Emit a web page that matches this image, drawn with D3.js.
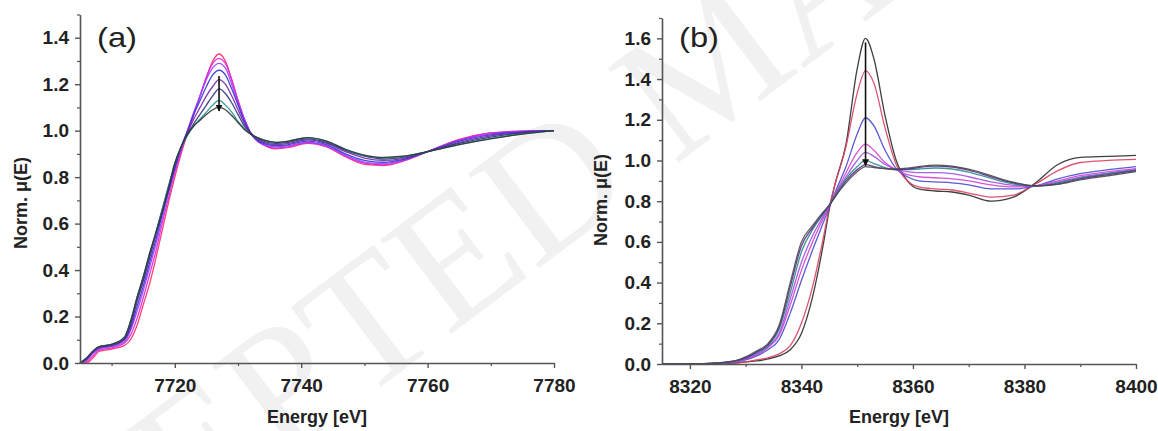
<!DOCTYPE html>
<html><head><meta charset="utf-8">
<script src="https://cdn.jsdelivr.net/npm/d3@7"></script>
<style>body{margin:0;background:#fff}svg{display:block}</style>
</head><body><svg id="c" width="1158" height="431"></svg>
<script>
// ---------- Panel (a) data ----------
const energyA = [7705,7706,7707,7708,7710,7712,7713,7714,7715,7716,7717,7718,7719,7720,7721,7722,7723,7724,7725,7726,7727,7728,7729,7730,7731,7732,7734,7736,7738,7741,7744,7747,7750,7753,7756,7760,7765,7770,7775,7780];
const a1 = [0.0,0.0,0.02,0.05,0.06,0.075,0.1,0.16,0.25,0.34,0.45,0.57,0.69,0.8,0.9,0.99,1.07,1.15,1.23,1.3,1.33,1.30,1.22,1.13,1.05,0.99,0.94,0.922,0.928,0.945,0.93,0.888,0.855,0.85,0.868,0.91,0.962,0.99,0.998,1.0];
const a2 = [0.0,0.005,0.03,0.055,0.065,0.085,0.12,0.19,0.28,0.38,0.48,0.6,0.71,0.82,0.91,0.99,1.07,1.15,1.23,1.29,1.31,1.29,1.22,1.13,1.05,0.99,0.94,0.925,0.93,0.948,0.932,0.89,0.86,0.853,0.87,0.91,0.96,0.99,0.998,1.0];
const a3 = [0.0,0.01,0.04,0.06,0.07,0.09,0.14,0.22,0.31,0.41,0.51,0.62,0.73,0.83,0.92,1.0,1.08,1.15,1.22,1.27,1.29,1.27,1.20,1.12,1.05,0.99,0.94,0.93,0.935,0.95,0.935,0.895,0.865,0.858,0.872,0.91,0.958,0.986,0.997,1.0];
const a4 = [0.0,0.015,0.045,0.065,0.075,0.1,0.15,0.24,0.33,0.43,0.53,0.64,0.74,0.84,0.93,1.0,1.07,1.13,1.19,1.24,1.26,1.24,1.18,1.11,1.04,0.99,0.945,0.935,0.94,0.955,0.94,0.9,0.872,0.864,0.875,0.91,0.955,0.982,0.995,1.0];
const a5 = [0.0,0.015,0.045,0.065,0.075,0.1,0.16,0.26,0.35,0.45,0.55,0.65,0.75,0.85,0.93,0.99,1.05,1.10,1.15,1.19,1.22,1.20,1.15,1.09,1.03,0.99,0.95,0.94,0.945,0.96,0.945,0.91,0.882,0.872,0.88,0.91,0.95,0.978,0.992,1.0];
const a6 = [0.0,0.02,0.05,0.07,0.08,0.105,0.17,0.27,0.36,0.46,0.56,0.66,0.76,0.85,0.93,0.98,1.03,1.07,1.11,1.15,1.18,1.16,1.12,1.07,1.02,0.99,0.955,0.945,0.95,0.965,0.95,0.915,0.89,0.878,0.885,0.91,0.945,0.972,0.99,1.0];
const a7 = [0.0,0.02,0.05,0.07,0.08,0.11,0.18,0.28,0.37,0.47,0.56,0.66,0.76,0.86,0.93,0.98,1.02,1.05,1.08,1.11,1.13,1.11,1.08,1.04,1.01,0.985,0.96,0.95,0.955,0.97,0.955,0.92,0.893,0.883,0.888,0.91,0.94,0.967,0.986,1.0];
const a8 = [0.0,0.02,0.05,0.07,0.08,0.11,0.18,0.28,0.37,0.47,0.56,0.65,0.75,0.86,0.93,0.985,1.02,1.045,1.07,1.09,1.10,1.09,1.065,1.035,1.005,0.985,0.96,0.95,0.955,0.97,0.955,0.92,0.895,0.885,0.89,0.91,0.94,0.965,0.985,1.0];
const seriesA = [a1,a2,a3,a4,a5,a6,a7,a8];
const colorsA = ["#ff2a66","#e020e0","#9a40ff","#3434d4","#7424a4","#30307e","#209090","#333333"];
const yTicksA = [0,0.2,0.4,0.6,0.8,1.0,1.2,1.4];
const xTicksA = [7720,7740,7760,7780];
const xMinorA = [7710,7730,7750,7770];
const yMinorA = [0.1,0.3,0.5,0.7,0.9,1.1,1.3,1.5];
const arrowA = [7727,1.235,1.085];

// ---------- Panel (b) data ----------
const energyB = [8315,8320,8325,8328,8330,8332,8334,8336,8338,8340,8342,8344,8345,8346,8348,8350,8351.5,8353,8355,8357,8359,8361,8364,8367,8370,8374,8378,8382,8386,8390,8395,8400];
const b1 = [0,0,0,0.005,0.01,0.015,0.025,0.04,0.07,0.15,0.33,0.6,0.76,0.88,1.08,1.45,1.6,1.5,1.22,1.0,0.9,0.86,0.85,0.845,0.83,0.80,0.82,0.89,0.98,1.015,1.02,1.025];
const b2 = [0,0,0,0.005,0.01,0.02,0.03,0.05,0.09,0.2,0.38,0.63,0.77,0.88,1.07,1.33,1.44,1.38,1.16,0.98,0.9,0.87,0.86,0.855,0.84,0.82,0.83,0.885,0.95,0.99,1.0,1.005];
const b3 = [0,0,0.002,0.008,0.02,0.04,0.07,0.12,0.25,0.41,0.56,0.7,0.77,0.84,0.97,1.13,1.21,1.17,1.05,0.96,0.92,0.9,0.895,0.89,0.88,0.86,0.86,0.875,0.91,0.935,0.955,0.97];
const b4 = [0,0,0.003,0.01,0.025,0.045,0.08,0.14,0.29,0.46,0.6,0.72,0.775,0.83,0.94,1.04,1.08,1.05,0.99,0.955,0.93,0.92,0.915,0.91,0.9,0.88,0.87,0.875,0.9,0.925,0.945,0.96];
const b5 = [0,0,0.003,0.01,0.025,0.05,0.085,0.15,0.32,0.5,0.63,0.73,0.78,0.83,0.92,1.0,1.04,1.02,0.98,0.955,0.945,0.94,0.94,0.935,0.92,0.895,0.878,0.875,0.893,0.918,0.938,0.955];
const b6 = [0,0,0.004,0.012,0.03,0.055,0.09,0.17,0.35,0.55,0.66,0.74,0.78,0.825,0.91,0.97,1.0,0.985,0.965,0.955,0.955,0.958,0.963,0.958,0.943,0.912,0.885,0.875,0.89,0.915,0.935,0.952];
const b7 = [0,0,0.005,0.015,0.03,0.06,0.095,0.18,0.38,0.58,0.67,0.745,0.78,0.82,0.9,0.955,0.98,0.97,0.96,0.955,0.958,0.965,0.972,0.968,0.952,0.92,0.89,0.875,0.885,0.91,0.93,0.95];
const b8 = [0,0,0.005,0.015,0.035,0.065,0.1,0.19,0.4,0.6,0.68,0.75,0.78,0.82,0.89,0.945,0.97,0.965,0.96,0.958,0.962,0.97,0.977,0.972,0.957,0.925,0.893,0.875,0.883,0.905,0.925,0.945];
const seriesB = [b1,b2,b3,b4,b5,b6,b7,b8];
const colorsB = ["#2a2a2a","#d9405e","#4848d0","#d040d0","#a050e0","#2a8a8a","#5a2a8a","#4a4a4a"];
const yTicksB = [0,0.2,0.4,0.6,0.8,1.0,1.2,1.4,1.6];
const xTicksB = [8320,8340,8360,8380,8400];
const xMinorB = [8330,8350,8370,8390];
const yMinorB = [0.1,0.3,0.5,0.7,0.9,1.1,1.3,1.5,1.7];
const arrowB = [8351.5,1.58,0.975];

const yTitle = "Norm. \u03BC(E)";
const xTitle = "Energy [eV]";
const watermark = "ACCEPTED MANUSCRIPT";

const svg = d3.select("#c");
const FONT = "'Liberation Sans', Arial, sans-serif";

// watermark (behind, very faint)
svg.append("text")
  .attr("transform","translate(550,185) rotate(-37)")
  .attr("x",-4.8*180).attr("dy","0.33em")
  .attr("font-family","'Liberation Serif', 'Times New Roman', serif")
  .attr("font-size",180).attr("fill","#f1f1f1")
  .text(watermark);

const defs = svg.append("defs");
defs.append("marker").attr("id","arr").attr("viewBox","0 0 10 10")
  .attr("refX",9).attr("refY",5).attr("markerWidth",7).attr("markerHeight",7)
  .attr("markerUnits","userSpaceOnUse").attr("orient","auto")
  .append("path").attr("d","M0,0L10,5L0,10Z").attr("fill","#111");

function panel(cfg){
  const x = d3.scaleLinear().domain(cfg.xDomain).range(cfg.xRange);
  const y = d3.scaleLinear().domain(cfg.yDomain).range(cfg.yRange);
  const g = svg.append("g");
  const line = d3.line().x(d=>x(d[0])).y(d=>y(d[1])).curve(d3.curveMonotoneX);
  cfg.series.forEach((s,i)=>{
    g.append("path").datum(cfg.energy.map((e,j)=>[e,s[j]]))
      .attr("d",line).attr("fill","none").attr("stroke",cfg.colors[i])
      .attr("stroke-width",1.3).attr("stroke-linejoin","round").attr("opacity",0.9);
  });
  g.append("line").attr("x1",x(cfg.arrow[0])).attr("x2",x(cfg.arrow[0]))
    .attr("y1",y(cfg.arrow[1])).attr("y2",y(cfg.arrow[2]))
    .attr("stroke","#111").attr("stroke-width",1.6).attr("marker-end","url(#arr)");

  const styleAxis = sel => {
    sel.attr("font-family",FONT).attr("font-size",19).attr("font-weight","bold");
    sel.select(".domain").attr("stroke","#555").attr("stroke-width",1.6);
    sel.selectAll(".tick line").attr("stroke","#555").attr("stroke-width",1.4);
    sel.selectAll(".tick text").attr("fill","#222");
  };
  g.append("g").attr("transform",`translate(0,${y(0)})`)
    .call(d3.axisBottom(x).tickValues(cfg.xMinor).tickSize(3).tickFormat(""))
    .call(s=>{s.select(".domain").remove(); s.selectAll("line").attr("stroke","#555").attr("stroke-width",1.2);});
  g.append("g").attr("transform",`translate(${x(cfg.xDomain[0])},0)`)
    .call(d3.axisLeft(y).tickValues(cfg.yMinor.filter(v=>v<=cfg.yDomain[1])).tickSize(3).tickFormat(""))
    .call(s=>{s.select(".domain").remove(); s.selectAll("line").attr("stroke","#555").attr("stroke-width",1.2);});
  g.append("g").attr("transform",`translate(0,${y(0)})`)
    .call(d3.axisBottom(x).tickValues(cfg.xTicks).tickSize(5).tickPadding(11).tickSizeOuter(0).tickFormat(d3.format("d")))
    .call(styleAxis);
  g.append("g").attr("transform",`translate(${x(cfg.xDomain[0])},0)`)
    .call(d3.axisLeft(y).tickValues(cfg.yTicks).tickSize(5).tickPadding(6).tickSizeOuter(0).tickFormat(d3.format(".1f")))
    .call(styleAxis);
  g.append("text").attr("x",(cfg.xRange[0]+cfg.xRange[1])/2).attr("y",423)
    .attr("text-anchor","middle").attr("font-family",FONT).attr("font-weight","bold")
    .attr("font-size",18).attr("fill","#222").text(xTitle);
  g.append("text").attr("transform",`translate(${cfg.yTitleX},${cfg.yTitleY}) rotate(-90)`)
    .attr("text-anchor","middle").attr("font-family",FONT).attr("font-weight","bold")
    .attr("font-size",18).attr("fill","#222").text(yTitle);
  g.append("text").attr("x",cfg.labelX).attr("y",47).attr("font-family",FONT)
    .attr("font-size",28).attr("textLength",40).attr("lengthAdjust","spacingAndGlyphs")
    .attr("fill","#222").text(cfg.label);
}

panel({energy:energyA, series:seriesA, colors:colorsA, xDomain:[7705,7780], xRange:[80,554],
  yDomain:[0,1.5], yRange:[363,14.5], xTicks:xTicksA, yTicks:yTicksA, xMinor:xMinorA, yMinor:yMinorA,
  arrow:arrowA, yTitleX:27, yTitleY:203, label:"(a)", labelX:97});
panel({energy:energyB, series:seriesB, colors:colorsB, xDomain:[8315,8400], xRange:[662,1136],
  yDomain:[0,1.7], yRange:[364,18], xTicks:xTicksB, yTicks:yTicksB, xMinor:xMinorB, yMinor:yMinorB,
  arrow:arrowB, yTitleX:607, yTitleY:200, label:"(b)", labelX:679});
</script></body></html>
